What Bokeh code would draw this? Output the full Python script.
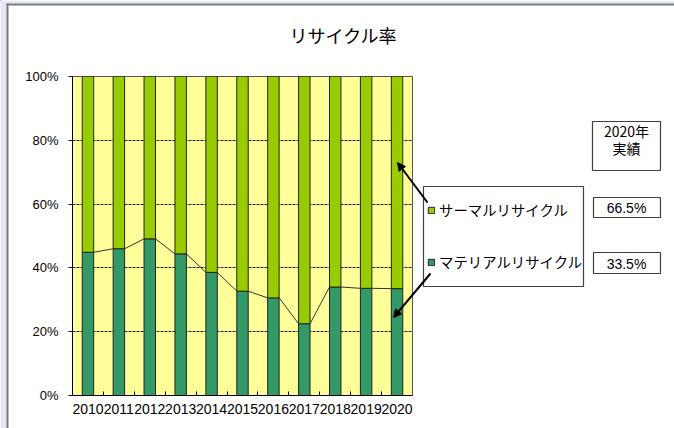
from bokeh.plotting import figure
from bokeh.models import (ColumnDataSource, FixedTicker, PrintfTickFormatter, Legend, LegendItem,
                          BoxAnnotation, Label, Arrow, NormalHead, Range1d)
from bokeh.embed import file_html
from bokeh.resources import INLINE

# ---- data ----
title_text = "リサイクル率"
years = ["2010", "2011", "2012", "2013", "2014", "2015", "2016", "2017", "2018", "2019", "2020"]
material = [44.9, 46.0, 49.1, 44.4, 38.6, 32.7, 30.6, 22.5, 34.0, 33.6, 33.5]
thermal = [55.1, 54.0, 50.9, 55.6, 61.4, 67.3, 69.4, 77.5, 66.0, 66.4, 66.5]
series_names = ["マテリアルリサイクル", "サーマルリサイクル"]
y_ticks = [0, 20, 40, 60, 80, 100]
result_header = ["2020年", "実績"]
result_thermal = "66.5%"
result_material = "33.5%"

COL_MAT = "#339966"
COL_THE = "#99cc00"
BG = "#ffff99"
JP = "Noto Sans CJK JP"
LAT = "Liberation Sans"

W, H = 674, 428
FL, FT, FR, FB = 72, 76, 412, 395  # chart frame edges in page px

xs = list(range(1, len(years) + 1))
src = ColumnDataSource(dict(x=xs, mat=material, the=thermal))

# ---------------- main chart ----------------
p = figure(width=W, height=H, output_backend="svg", toolbar_location=None,
           x_range=Range1d(0.5, len(years) + 0.5), y_range=Range1d(0, 100),
           min_border_left=FL, min_border_right=W - FR, min_border_top=FT, min_border_bottom=H - FB)
p.background_fill_color = BG
p.border_fill_color = "white"
p.outline_line_color = "#555555"
p.outline_line_width = 1

bw = 0.37
rs = p.vbar_stack(["mat", "the"], x="x", width=bw, source=src,
                  fill_color=[COL_MAT, COL_THE], line_color="#222222", line_width=1)

seg = ColumnDataSource(dict(x0=[x + bw / 2 for x in xs[:-1]], x1=[x - bw / 2 for x in xs[1:]],
                            y0=material[:-1], y1=material[1:]))
p.segment("x0", "y0", "x1", "y1", source=seg, line_color="#333333", line_width=1)

p.xaxis.ticker = FixedTicker(ticks=xs, minor_ticks=[x + 0.5 for x in xs[:-1]])
p.xaxis.major_label_overrides = {x: y for x, y in zip(xs, years)}
p.xaxis.major_tick_out = 0
p.xaxis.major_tick_in = 0
p.xaxis.minor_tick_in = 4
p.xaxis.minor_tick_out = 0
p.xaxis.minor_tick_line_color = "black"
p.xaxis.major_label_text_font = LAT
p.xaxis.major_label_text_font_size = "14px"
p.xaxis.major_label_text_color = "black"
p.xaxis.major_label_standoff = 8
p.xaxis.axis_line_color = "black"

p.yaxis.ticker = FixedTicker(ticks=y_ticks)
p.yaxis.formatter = PrintfTickFormatter(format="%d%%")
p.yaxis.major_tick_out = 4
p.yaxis.major_tick_in = 0
p.yaxis.minor_tick_line_color = None
p.yaxis.major_label_text_font = LAT
p.yaxis.major_label_text_font_size = "13px"
p.yaxis.major_label_text_color = "black"
p.yaxis.major_label_standoff = 10
p.yaxis.axis_line_color = "black"

p.xgrid.visible = False
p.ygrid.grid_line_color = "#222222"
p.ygrid.grid_line_dash = "3 1"
p.ygrid.grid_line_width = 1

# ---------------- overlay (page px coordinates) ----------------
q = figure(width=W, height=H, output_backend="svg", toolbar_location=None,
           x_range=Range1d(0, W), y_range=Range1d(H, 0), x_axis_type=None, y_axis_type=None,
           min_border=0)
q.background_fill_alpha = 0
q.border_fill_alpha = 0
q.outline_line_color = None
q.grid.visible = False
q.styles = {"position": "absolute", "left": "0px", "top": "0px"}


def box(l, t, r, b, fill="white", line="#404040", lw=1):
    return BoxAnnotation(left=l, right=r, top=t, bottom=b, fill_color=fill, fill_alpha=1,
                         line_color=line, line_alpha=1, line_width=lw, level="underlay")


# page frame
q.add_layout(box(0, 0, 6, H, fill="#e4e8f6", line=None))
q.add_layout(box(0, 0, W, 3, fill="#e4e8f6", line=None))
q.add_layout(box(6, 3, 8, H, fill="#7a7a7a", line=None))
q.add_layout(box(6, 3, W, 5, fill="#7a7a7a", line=None))

# title
q.add_layout(Label(x=343, y=34, text=title_text, text_align="center", text_baseline="middle",
                   text_font=JP, text_font_size="18px", text_color="black"))

# legend
q.add_layout(box(423, 186, 583, 286, lw=1.2))
lr_the = q.vbar(x=[-1000], top=[-1000], width=1, fill_color=COL_THE, line_color="#222222")
lr_mat = q.vbar(x=[-1000], top=[-1000], width=1, fill_color=COL_MAT, line_color="#222222")
legend = Legend(items=[LegendItem(label=series_names[1], renderers=[lr_the]),
                       LegendItem(label=series_names[0], renderers=[lr_mat])],
                location=(423, H - 276), padding=4, margin=0, spacing=31,
                glyph_width=8, glyph_height=8, label_height=14, label_standoff=4,
                label_text_font=JP, label_text_font_size="14.4px", label_text_color="black",
                background_fill_alpha=0, border_line_alpha=0)
q.add_layout(legend, "center")

# result boxes
q.add_layout(box(592, 121, 660, 170, lw=1.2))
q.add_layout(box(593, 197, 660, 217, lw=1.2))
q.add_layout(box(593, 252, 660, 273, lw=1.2))
for txt, cy in [(result_header[0], 130), (result_header[1], 147)]:
    q.add_layout(Label(x=626, y=cy, text=txt, text_align="center", text_baseline="middle",
                       text_font=JP, text_font_size="14px", text_color="black"))
for txt, cy in [(result_thermal, 207), (result_material, 263)]:
    q.add_layout(Label(x=626, y=cy, text=txt, text_align="center", text_baseline="middle",
                       text_font=LAT, text_font_size="14px", text_color="black"))

# arrows
for (x0, y0, x1, y1) in [(427, 202, 397, 162), (430, 273, 393, 317)]:
    q.add_layout(Arrow(x_start=x0, y_start=y0, x_end=x1, y_end=y1, line_color="black", line_width=2,
                       end=NormalHead(size=8, fill_color="black", line_color="black")))

open("out.html", "w").write(file_html([p, q], INLINE))
